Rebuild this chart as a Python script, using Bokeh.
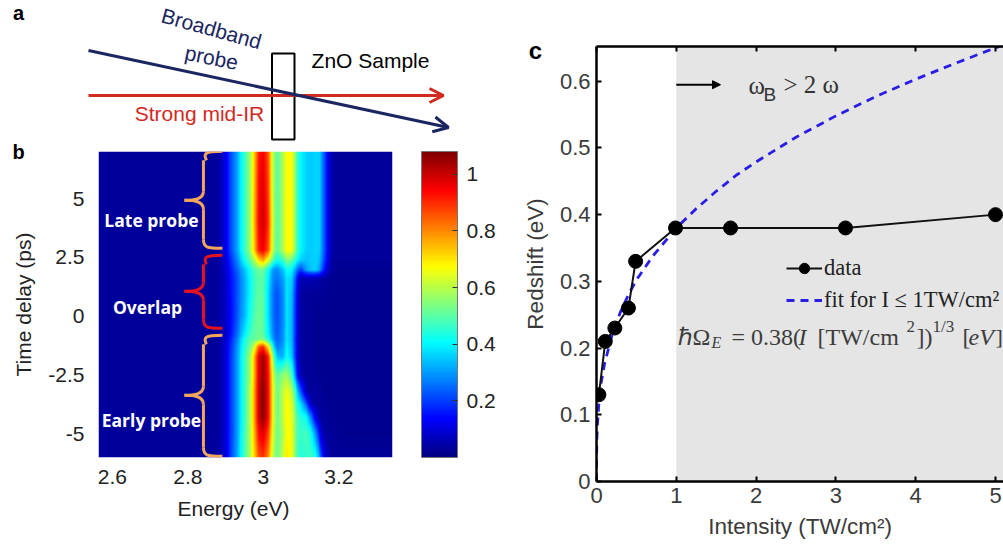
import numpy as np
from bokeh.plotting import figure
from bokeh.embed import file_html
from bokeh.resources import INLINE
from bokeh.layouts import row, column
from bokeh.models import (Arrow, OpenHead, NormalHead, Range1d, LinearColorMapper, ColorBar, FixedTicker, LinearAxis,
                          Label, BoxAnnotation, Legend, LegendItem, Spacer)

# ---------------- panel c data
intensity = [0.03, 0.11, 0.23, 0.40, 0.49, 0.99, 1.68, 3.12, 5.0]
redshift = [0.13, 0.21, 0.23, 0.26, 0.33, 0.38, 0.38, 0.38, 0.40]
fit_intensity = [0, 0.001, 0.004, 0.01, 0.03, 0.06, 0.1, 0.2, 0.3, 0.4, 0.5, 0.7, 1.0, 1.25, 1.5, 1.75, 2.0, 2.5, 3.0, 3.5, 4.0, 4.5, 5.0, 5.1]
fit_redshift = [0, 0.038, 0.060, 0.082, 0.118, 0.149, 0.176, 0.222, 0.254, 0.280, 0.302, 0.337, 0.380, 0.409, 0.435, 0.459, 0.479, 0.516, 0.548, 0.577, 0.603, 0.627, 0.650, 0.654]
c_xticks = [0, 1, 2, 3, 4, 5]
c_yticks = [0, 0.1, 0.2, 0.3, 0.4, 0.5, 0.6]

# ---------------- panel b data
energy = [2.875, 2.8875, 2.9, 2.9125, 2.925, 2.9375, 2.95, 2.9625, 2.975, 2.9875, 3.0, 3.0125, 3.025, 3.0375,
          3.05, 3.0625, 3.075, 3.0875, 3.1, 3.1125, 3.125, 3.1375, 3.15, 3.1625, 3.175, 3.1875, 3.2]
delay = [-6, -5, -4.3, -3.7, -3.2, -2.5, -1.7, -1.3, -1.0, -0.7, 0, 1, 1.6, 2.0, 2.4, 2.8, 4, 5.5, 7]
spectra = [
 [.03,.06,.11,.19,.28,.38,.48,.58,.70,.86,.90,.80,.60,.52,.60,.70,.66,.50,.44,.46,.47,.44,.28,.10,.04,.03,.03],
 [.03,.05,.10,.18,.27,.37,.47,.58,.72,.94,.98,.88,.64,.52,.58,.68,.66,.50,.46,.48,.44,.30,.12,.04,.03,.03,.02],
 [.03,.05,.10,.18,.27,.36,.46,.58,.74,1.0,1.07,.95,.66,.52,.60,.68,.65,.50,.44,.42,.30,.12,.04,.03,.03,.02,.02],
 [.03,.05,.10,.18,.27,.36,.46,.58,.74,1.0,1.08,.95,.66,.52,.60,.68,.64,.46,.36,.22,.08,.03,.03,.03,.02,.02,.02],
 [.03,.05,.10,.18,.27,.36,.46,.58,.74,1.0,1.08,.95,.66,.52,.60,.66,.60,.40,.22,.06,.03,.03,.03,.02,.02,.02,.02],
 [.03,.05,.10,.18,.27,.36,.46,.56,.72,.98,1.06,.94,.64,.50,.55,.58,.48,.20,.05,.03,.03,.03,.02,.02,.02,.02,.02],
 [.03,.05,.10,.18,.27,.36,.46,.56,.72,.98,1.05,.92,.56,.34,.32,.42,.35,.13,.04,.03,.03,.02,.02,.02,.02,.02,.02],
 [.03,.05,.10,.17,.26,.35,.44,.52,.60,.85,.90,.70,.42,.26,.30,.40,.34,.13,.04,.03,.03,.02,.02,.02,.02,.02,.02],
 [.03,.05,.09,.16,.24,.33,.42,.50,.50,.53,.54,.44,.30,.24,.28,.38,.33,.12,.04,.03,.03,.02,.02,.02,.02,.02,.02],
 [.03,.05,.08,.14,.22,.30,.38,.46,.50,.52,.50,.40,.28,.23,.28,.38,.33,.13,.04,.03,.03,.02,.02,.02,.02,.02,.02],
 [.03,.05,.08,.13,.20,.27,.33,.42,.48,.52,.50,.38,.26,.22,.27,.38,.33,.13,.04,.03,.03,.02,.02,.02,.02,.02,.02],
 [.03,.05,.08,.14,.20,.26,.32,.40,.46,.51,.50,.38,.26,.22,.28,.38,.34,.14,.04,.03,.03,.03,.03,.03,.02,.02,.02],
 [.03,.05,.08,.14,.20,.26,.32,.40,.46,.50,.50,.40,.28,.26,.30,.38,.36,.18,.05,.06,.06,.05,.04,.03,.03,.02,.02],
 [.03,.05,.09,.15,.22,.28,.34,.42,.47,.52,.52,.42,.30,.28,.34,.42,.40,.28,.20,.30,.34,.36,.30,.15,.05,.03,.02],
 [.03,.05,.10,.17,.25,.33,.42,.50,.58,.72,.78,.66,.50,.42,.46,.55,.52,.42,.36,.34,.35,.36,.34,.20,.07,.03,.03],
 [.03,.06,.12,.20,.28,.37,.46,.56,.70,.92,.96,.86,.60,.50,.58,.68,.67,.50,.40,.36,.35,.36,.36,.22,.08,.04,.03],
 [.03,.06,.12,.20,.28,.37,.46,.56,.72,.95,1.0,.90,.62,.50,.58,.68,.67,.50,.40,.36,.35,.36,.36,.22,.08,.04,.03],
 [.03,.06,.12,.20,.28,.37,.46,.56,.71,.94,.98,.88,.60,.50,.58,.68,.67,.50,.40,.36,.35,.36,.36,.22,.08,.04,.03],
 [.03,.06,.12,.20,.28,.37,.46,.56,.70,.92,.96,.86,.60,.50,.58,.68,.67,.50,.40,.36,.35,.36,.36,.22,.08,.04,.03],
]
b_xticks = [2.6, 2.8, 3.0, 3.2]
b_yticks = [-5, -2.5, 0, 2.5, 5]
cbar_ticks = [0.2, 0.4, 0.6, 0.8, 1.0]
group_labels = ["Late probe", "Overlap", "Early probe"]

DARK = "#3a3a3a"
SANS = "Liberation Sans"
SERIF = "Liberation Serif"

# jet colour map
def jet(n=256):
    out = []
    for i in range(n):
        v = i / (n - 1)
        r = np.clip(min(4 * v - 1.5, -4 * v + 4.5), 0, 1)
        g = np.clip(min(4 * v - 0.5, -4 * v + 3.5), 0, 1)
        b = np.clip(min(4 * v + 0.5, -4 * v + 2.5), 0, 1)
        out.append("#%02x%02x%02x" % (int(r * 255), int(g * 255), int(b * 255)))
    return out

# ---------------- overlay: panel a schematic and panel letters, in picture coordinates
a = figure(width=1003, height=544, x_range=Range1d(0, 1003), y_range=Range1d(544, 0), output_backend="svg",
           toolbar_location=None, x_axis_location=None, y_axis_location=None, min_border=0,
           outline_line_color=None, background_fill_color=None, border_fill_color=None, margin=0)
a.grid.visible = False
NAVY = "#1b2562"
RED = "#d22a1e"
a.add_layout(Arrow(x_start=88, y_start=95, x_end=443, y_end=95, line_color=RED, line_width=3,
                   end=OpenHead(size=14, line_color=RED, line_width=3)))
a.add_layout(Arrow(x_start=88, y_start=50, x_end=448, y_end=127, line_color=NAVY, line_width=3,
                   end=OpenHead(size=15, line_color=NAVY, line_width=3)))
a.quad(left=[271.5], right=[294], top=[53], bottom=[139], fill_color=None, line_color="black", line_width=2)
def atext(x, y, s, color="black", size="21px", angle=0.0, style="normal", align="center"):
    a.add_layout(Label(x=x, y=y, text=s, text_color=color, text_font=SANS, text_font_size=size, angle=angle,
                       text_align=align, text_baseline="middle", text_font_style=style))
atext(18, 12, "a", size="20px", style="bold")
atext(18, 151, "b", size="20px", style="bold")
atext(535, 50, "c", size="24px", style="bold")
atext(211, 28, "Broadband", color=NAVY, angle=-0.27)
atext(211, 57, "probe", color=NAVY, angle=-0.2)
atext(370, 60, "ZnO Sample")
atext(199, 113, "Strong mid-IR", color=RED)
atext(233, 508, "Energy (eV)", color="#222222")

# ---------------- panel b
T0, T1 = -6.0, 7.0
E0, E1 = 2.563, 3.342
b = figure(width=518, height=401, x_range=Range1d(E0, E1), y_range=Range1d(T0, T1), output_backend="svg",
           toolbar_location=None, min_border_left=98, min_border_right=126, min_border_top=8, min_border_bottom=87,
           outline_line_color=None)
b.grid.visible = False
Z = np.array(spectra)
ex = np.linspace(E0, E1, 320)
ty = np.linspace(T0, T1, 320)
# display shading only (the original is drawn with interpolated shading)
tmp = np.array([np.interp(ex, energy, line) for line in Z])
img = np.array([np.interp(ty, delay, tmp[:, j]) for j in range(tmp.shape[1])]).T
mapper = LinearColorMapper(palette=jet(), low=0, high=1.08)
b.image(image=[img], x=E0, y=T0, dw=E1 - E0, dh=T1 - T0, color_mapper=mapper)

for ax, ticks in ((b.xaxis[0], b_xticks), (b.yaxis[0], b_yticks)):
    ax.ticker = FixedTicker(ticks=ticks)
    ax.axis_label_text_font = SANS
    ax.axis_label_text_font_style = "normal"
    ax.axis_label_text_font_size = "21px"
    ax.axis_label_text_color = "#222222"
    ax.major_label_text_font = SANS
    ax.major_label_text_font_size = "21px"
    ax.major_label_text_color = "#222222"
    ax.major_tick_line_color = None
    ax.minor_tick_line_color = None
    ax.axis_line_color = None
b.yaxis[0].axis_label = "Time delay (ps)"
b.xaxis[0].major_label_overrides = {3.0: "3"}
b.xaxis[0].major_label_standoff = 6
b.yaxis[0].major_label_overrides = {-5: "-5", -2.5: "-2.5", 0: "0", 2.5: "2.5", 5: "5"}
b.yaxis[0].major_label_standoff = 8
b.yaxis[0].axis_label_standoff = 10

cb = ColorBar(color_mapper=mapper, ticker=FixedTicker(ticks=cbar_ticks), width=36, height=306, location=(29, 0),
              padding=0, major_label_text_font=SANS, major_label_text_font_size="21px",
              major_label_text_color="#222222", major_tick_line_color="#333333", major_tick_in=5,
              bar_line_color="#777777", border_line_color=None, background_fill_color=None, label_standoff=9,
              major_label_overrides={1.0: "1"})
b.add_layout(cb, "right")

def ex_px(px):
    return 3 + (px - 263) / 377.5
def t_px(py):
    return (316 - py) / 23.54

ORANGE = "#f2a65c"
def brace(top, mid, bot, color):
    xl, xc, xr = ex_px(184), ex_px(203), ex_px(222)
    xc2 = ex_px(206)
    r = t_px(0) - t_px(9)
    segs = [
        (xr, top, xc2, top - r, xc, top, xc, top - r * 0.3),
        (xc2 - (xc2 - xc), top - r, xc, mid + r, xc, top - r, xc, mid + r),
        (xc, mid + r, xl, mid, xc, mid + r * 0.1, xl + (xc - xl) * 0.5, mid),
        (xl, mid, xc, mid - r, xl + (xc - xl) * 0.5, mid, xc, mid - r * 0.1),
        (xc, mid - r, xc, bot + r, xc, mid - r, xc, bot + r),
        (xc, bot + r, xr, bot, xc, bot + r * 0.1, xc2, bot),
    ]
    c = list(zip(*segs))
    b.bezier(x0=list(c[0]), y0=list(c[1]), x1=list(c[2]), y1=list(c[3]), cx0=list(c[4]), cy0=list(c[5]),
             cx1=list(c[6]), cy1=list(c[7]), line_color=color, line_width=3)
brace(t_px(151), t_px(200), t_px(248), ORANGE)
brace(t_px(255), t_px(291), t_px(328), "#e5121f")
brace(t_px(335), t_px(395), t_px(456), ORANGE)

for s, px, py in zip(group_labels, [151, 147, 151], [220, 307, 420]):
    b.add_layout(Label(x=ex_px(px), y=t_px(py), text=s, text_color="white", text_font="Open Sans",
                       text_font_style="bold", text_font_size="17.5px", text_align="center", text_baseline="middle"))

# ---------------- panel c
XMAX = 5.1
YMAX = 0.652
c = figure(width=485, height=544, x_range=Range1d(0, XMAX), y_range=Range1d(0, YMAX), output_backend="svg",
           toolbar_location=None, min_border_left=78, min_border_right=0, min_border_top=46, min_border_bottom=63,
           outline_line_color=None)
c.grid.visible = False
c.add_layout(BoxAnnotation(left=1.0, right=XMAX, bottom=0, top=YMAX, fill_color="#e5e5e5", fill_alpha=1, line_color=None, level="underlay"))

r_fit = c.line(fit_intensity, fit_redshift, line_color="#2a1ee6", line_width=2.8, line_dash="8 6")
r_data = c.line(intensity, redshift, line_color="#111111", line_width=2)
r_pts = c.scatter(intensity, redshift, size=14, fill_color="black", line_color="black")

for ax, ticks in ((c.xaxis[0], c_xticks), (c.yaxis[0], c_yticks)):
    ax.ticker = FixedTicker(ticks=ticks)
    ax.major_label_text_font = SANS
    ax.major_label_text_font_size = "22px"
    ax.major_label_text_color = DARK
    ax.axis_label_text_font = SANS
    ax.axis_label_text_font_style = "normal"
    ax.axis_label_text_font_size = "22.5px"
    ax.axis_label_text_color = DARK
    ax.axis_line_color = "black"
    ax.axis_line_width = 2.5
    ax.major_tick_line_color = "black"
    ax.major_tick_line_width = 2
    ax.major_tick_in = 5
    ax.major_tick_out = 0
    ax.minor_tick_line_color = None
c.xaxis[0].axis_label = "Intensity (TW/cm²)"
c.yaxis[0].axis_label = "Redshift (eV)"
c.xaxis[0].major_label_standoff = 6
c.xaxis[0].axis_label_standoff = 8
c.yaxis[0].major_label_standoff = 6
c.yaxis[0].axis_label_standoff = 9
c.yaxis[0].major_label_overrides = {0: "0"}
top = LinearAxis(ticker=FixedTicker(ticks=c_xticks), major_label_overrides={t: "" for t in c_xticks},
                 axis_line_color="black", axis_line_width=2.5, major_tick_line_color="black", major_tick_line_width=2,
                 major_tick_in=5, major_tick_out=0, minor_tick_line_color=None)
c.add_layout(top, "above")

leg = Legend(items=[LegendItem(label="data", renderers=[r_data, r_pts]),
                    LegendItem(label="fit for I ≤ 1TW/cm²", renderers=[r_fit])],
             location=(190, 168), background_fill_alpha=0, border_line_color=None, glyph_width=36, glyph_height=26,
             label_text_font=SERIF, label_text_font_size="22.5px", label_text_color="#222222", label_standoff=2,
             spacing=6, padding=0, margin=0)
c.add_layout(leg, "center")

def cx_px(px):
    return (px - 596) / 79.8
def cy_px(py):
    return (480.7 - py) / 667.0
def ctext(px, py, s, size="24px", style="normal", font=SERIF, color="#3c3c3c", align="left"):
    c.add_layout(Label(x=cx_px(px), y=cy_px(py), text=s, text_font=font, text_font_size=size, text_font_style=style,
                       text_color=color, text_align=align, text_baseline="middle"))
c.add_layout(Arrow(x_start=1.0, y_start=cy_px(84), x_end=cx_px(720), y_end=cy_px(84), line_color="black", line_width=2,
                   end=NormalHead(size=8, fill_color="black", line_color="black")))
ctext(748, 85, "ω", size="25px", color="#333333")
ctext(763, 94, "B", size="19px", font=SANS, color="#333333")
ctext(783, 84, "> 2 ω", size="25px", color="#333333")
ctext(677, 336, "ℏΩ")
ctext(711, 342, "E", size="16px", style="italic")
ctext(731, 336, "= 0.38(")
ctext(798, 336, "I", style="italic")
ctext(817, 336, "[TW/cm")
ctext(906, 326, "2", size="17px")
ctext(916, 336, "])")
ctext(932, 326, "1/3", size="17px")
ctext(962, 336, "[")
ctext(968, 336, "eV", style="italic")
ctext(995, 336, "]", size="22px")

left = column(Spacer(width=518, height=143, margin=0), b, spacing=0, margin=0)
right = column(c, spacing=0, margin=0)
overlay = column(a, margin=(0, 0, 0, -1003), width=1003, height=544, sizing_mode="fixed")
page = row(left, right, overlay, spacing=0, margin=0)
open("out.html", "w").write(file_html(page, INLINE))
